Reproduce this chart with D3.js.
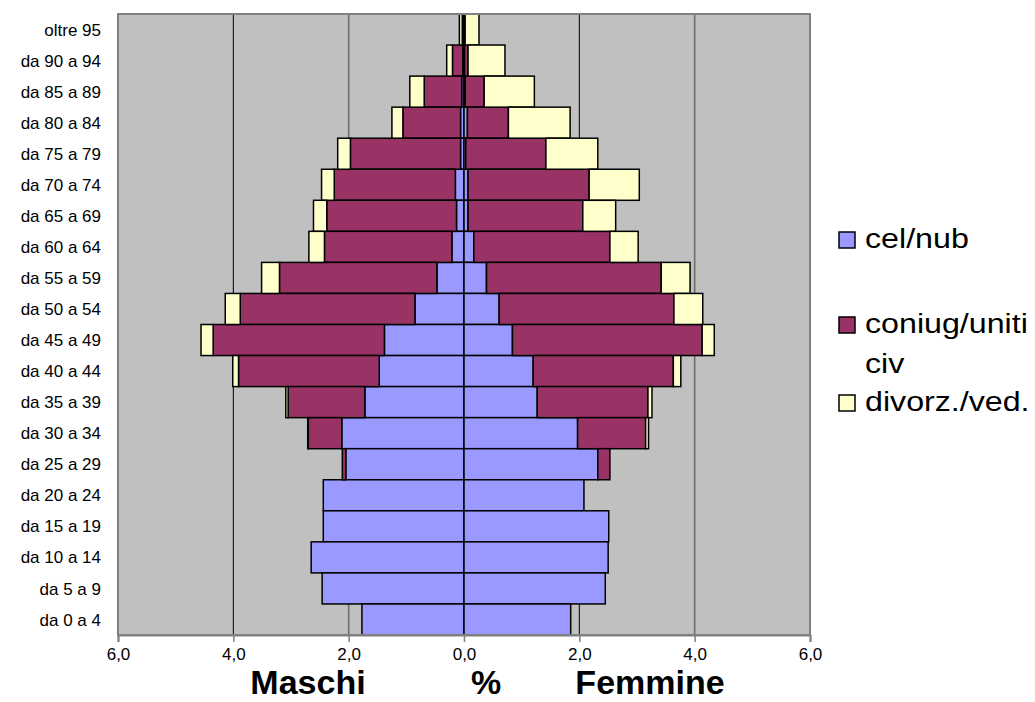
<!DOCTYPE html>
<html>
<head>
<meta charset="utf-8">
<script src="https://cdn.jsdelivr.net/npm/d3@7"></script>
<style>
  body { margin: 0; background: #fff; }
  svg { font-family: "Liberation Sans", Arial, sans-serif; }
</style>
</head>
<body>
<div id="chart"></div>
<script>
// age classes, top to bottom
const ageClasses = ["oltre 95", "da 90 a 94", "da 85 a 89", "da 80 a 84", "da 75 a 79",
  "da 70 a 74", "da 65 a 69", "da 60 a 64", "da 55 a 59", "da 50 a 54", "da 45 a 49",
  "da 40 a 44", "da 35 a 39", "da 30 a 34", "da 25 a 29", "da 20 a 24", "da 15 a 19",
  "da 10 a 14", "da 5 a 9", "da 0 a 4"];

const seriesKeys = ["cel", "con", "div"];
const legendLabels = [["cel/nub"], ["coniug/uniti", "civ"], ["divorz./ved."]];
const seriesColors = ["#9999FF", "#993366", "#FFFFCC"];

// Maschi (%)
const maleCel = [0.01, 0.02, 0.04, 0.06, 0.06, 0.15, 0.13, 0.21, 0.47, 0.85, 1.38, 1.47, 1.72, 2.12, 2.05, 2.44, 2.44, 2.65, 2.46, 1.77];
const maleCon = [0.02, 0.18, 0.65, 1.00, 1.91, 2.10, 2.25, 2.21, 2.73, 3.03, 2.97, 2.44, 1.33, 0.58, 0.06, 0, 0, 0, 0, 0];
const maleDiv = [0.05, 0.10, 0.25, 0.19, 0.22, 0.22, 0.23, 0.27, 0.31, 0.26, 0.21, 0.10, 0.04, 0.01, 0, 0, 0, 0, 0, 0];

// Femmine (%)
const femaleCel = [0.01, 0.01, 0.02, 0.06, 0.03, 0.07, 0.07, 0.17, 0.39, 0.61, 0.84, 1.20, 1.27, 1.97, 2.32, 2.08, 2.51, 2.50, 2.45, 1.85];
const femaleCon = [0.01, 0.06, 0.33, 0.71, 1.39, 2.10, 1.99, 2.36, 3.03, 3.03, 3.29, 2.43, 1.92, 1.18, 0.21, 0, 0, 0, 0, 0];
const femaleDiv = [0.24, 0.64, 0.87, 1.07, 0.90, 0.87, 0.57, 0.49, 0.50, 0.50, 0.21, 0.13, 0.07, 0.05, 0, 0, 0, 0, 0, 0];

const xTicks = [-6, -4, -2, 0, 2, 4, 6];

const width = 1035, height = 702;
const plotLeft = 118, plotRight = 810, plotTop = 14, plotBottom = 635;

const svg = d3.select("#chart").append("svg")
  .attr("width", width)
  .attr("height", height);

const x = d3.scaleLinear().domain([-6, 6]).range([plotLeft, plotRight]);
const y = d3.scaleBand().domain(ageClasses).range([plotTop, plotBottom]).padding(0);

// plot background
svg.append("rect")
  .attr("x", plotLeft).attr("y", plotTop)
  .attr("width", plotRight - plotLeft).attr("height", plotBottom - plotTop)
  .attr("fill", "#C0C0C0");

// gridlines
svg.append("g").selectAll("line")
  .data(xTicks.filter(d => Math.abs(d) !== 6))
  .enter().append("line")
  .attr("x1", d => x(d)).attr("x2", d => x(d))
  .attr("y1", plotTop).attr("y2", plotBottom)
  .attr("stroke", d => (d === -4 || d === 2) ? "#000" : "#6e6e6e")
  .attr("stroke-width", d => (d === -4 || d === 2) ? 1 : 1.6);

// stacked bars
const maleRows = ageClasses.map((a, i) => ({ age: a, cel: maleCel[i], con: maleCon[i], div: maleDiv[i] }));
const femaleRows = ageClasses.map((a, i) => ({ age: a, cel: femaleCel[i], con: femaleCon[i], div: femaleDiv[i] }));
const stack = d3.stack().keys(seriesKeys);

function drawSide(rows, sign) {
  const layers = stack(rows);
  svg.append("g").selectAll("g")
    .data(layers)
    .enter().append("g")
    .attr("fill", (d, i) => seriesColors[i])
    .selectAll("rect")
    .data(d => d.filter(s => s[1] - s[0] > 0))
    .enter().append("rect")
    .attr("x", s => Math.min(x(sign * s[0]), x(sign * s[1])))
    .attr("width", s => Math.abs(x(sign * s[1]) - x(sign * s[0])))
    .attr("y", s => y(s.data.age))
    .attr("height", y.bandwidth())
    .attr("stroke", "#000")
    .attr("stroke-width", 1.5);
}
drawSide(maleRows, -1);
drawSide(femaleRows, 1);

// plot border
svg.append("rect")
  .attr("x", plotLeft).attr("y", plotTop)
  .attr("width", plotRight - plotLeft).attr("height", plotBottom - plotTop)
  .attr("fill", "none")
  .attr("stroke", "#808080")
  .attr("stroke-width", 2);

// x axis
const xAxis = svg.append("g")
  .attr("transform", `translate(0,${plotBottom})`)
  .call(d3.axisBottom(x).tickValues(xTicks).tickSize(7).tickPadding(6)
    .tickFormat(d => d3.format(".1f")(Math.abs(d)).replace(".", ",")));
xAxis.select(".domain").attr("stroke", "#808080").attr("stroke-width", 2);
xAxis.selectAll(".tick line").attr("stroke", "#808080").attr("stroke-width", 1.5);
xAxis.selectAll("text").attr("font-size", 17).attr("fill", "#000")
  .attr("font-family", "'Liberation Sans', Arial, sans-serif");

// y labels
svg.append("g").selectAll("text")
  .data(ageClasses)
  .enter().append("text")
  .attr("x", 101)
  .attr("y", d => y(d) + y.bandwidth() / 2)
  .attr("dy", "0.36em")
  .attr("text-anchor", "end")
  .attr("font-size", 17)
  .text(d => d);

// axis titles
const titles = [["Maschi", 308], ["%", 486], ["Femmine", 650]];
svg.append("g").selectAll("text")
  .data(titles)
  .enter().append("text")
  .attr("x", d => d[1])
  .attr("y", 694)
  .attr("text-anchor", "middle")
  .attr("font-size", 34)
  .attr("font-weight", "bold")
  .text(d => d[0]);

// legend
const legendY = [232, 317, 395];
const legend = svg.append("g").selectAll("g")
  .data(legendLabels)
  .enter().append("g")
  .attr("transform", (d, i) => `translate(839,${legendY[i]})`);

legend.append("rect")
  .attr("width", 16).attr("height", 16)
  .attr("fill", (d, i) => seriesColors[i])
  .attr("stroke", "#000")
  .attr("stroke-width", 1.5);

legend.selectAll("text")
  .data(d => d)
  .enter().append("text")
  .attr("transform", (d, j) => `translate(26,${16 + j * 40}) scale(1.15,1)`)
  .attr("font-size", 28)
  .text(d => d);
</script>
</body>
</html>
